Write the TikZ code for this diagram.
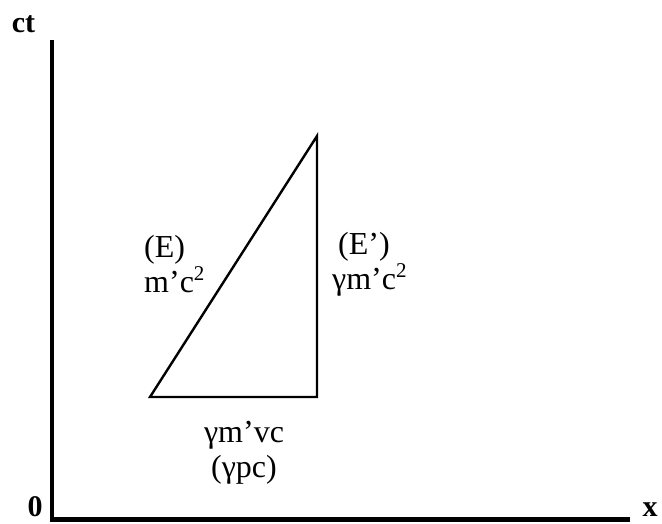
\documentclass[tikz,border=0pt]{standalone}
\usepackage{fontspec}
\setmainfont{Liberation Serif}
\usetikzlibrary{positioning}
\newcommand{\sqrd}{\raisebox{0.36em}{\fontsize{21}{21}\selectfont 2}}

\begin{document}
\begin{tikzpicture}[
    x=1pt, y=-1pt,
    axis/.style={line width=4.5pt, line join=miter},
    side/.style={line width=2.4pt, line join=miter},
    label/.style={font=\fontsize{32}{35}\selectfont, inner sep=0pt},
    axislabel/.style={font=\fontsize{30}{32}\selectfont\bfseries, inner sep=0pt}
]
\useasboundingbox (0,0) rectangle (662,523);

% Axes
\coordinate (top) at (52,40);
\coordinate (origin) at (52,519.5);
\coordinate (xend) at (630,519.5);
\draw[axis] (top) -- (origin) -- (xend);

\node[axislabel, anchor=base] (ct) at (23.5,32) {ct};
\node[axislabel, anchor=base] (zero) at (35,516) {0};
\node[axislabel, anchor=base] (x) at (650,516) {x};

% Triangle
\coordinate (A) at (150,397);
\coordinate (B) at (317,397);
\coordinate (C) at (317,136);
\draw[side] (A) -- (B) -- (C) -- cycle;

\node[label, align=left, anchor=west] (hyp) at (144,264) {(E)\\m’c\sqrd};
\node[label, align=left, anchor=west] (leg) at (332,264) {\hspace{6pt}(E’)\\γm’c\sqrd};
\node[label, align=center] (base) at (244,453) {γm’vc\\(γpc)};

\end{tikzpicture}
\end{document}
